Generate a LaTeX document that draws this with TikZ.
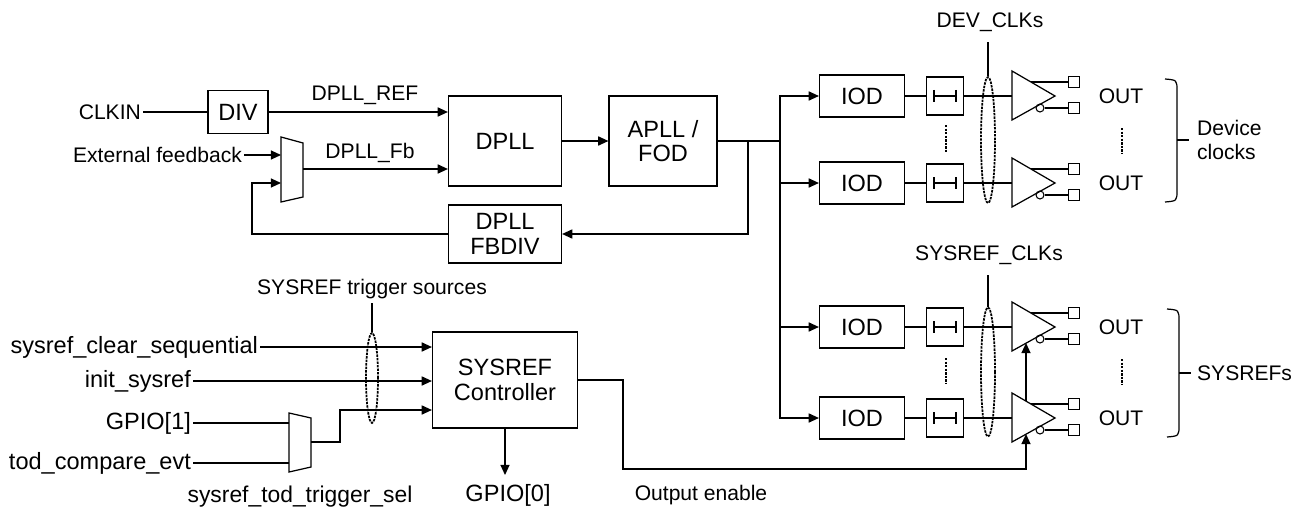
\documentclass[tikz,border=0pt]{standalone}
\usepackage{fontspec}
\setmainfont{Liberation Sans}
\usetikzlibrary{shapes.geometric, arrows.meta, positioning, calc}
\tikzset{
    % Text sizes
    bigtext/.style={font=\fontsize{13.4}{14}\selectfont},
    smalltext/.style={font=\fontsize{12}{13.5}\selectfont},
    % Node styles
    blockbox/.style={
        rectangle,
        draw,
        line width=0.7pt,
        align=center,
        inner sep=1pt,
        bigtext
    },
    iodbox/.style={
        blockbox,
        minimum width=1.7cm,
        minimum height=0.84cm
    },
    delaybox/.style={
        rectangle,
        draw,
        line width=0.7pt,
        minimum width=0.74cm,
        minimum height=0.76cm,
        inner sep=0pt
    },
    padbox/.style={
        rectangle,
        draw,
        line width=0.6pt,
        minimum size=0.22cm,
        inner sep=0pt
    },
    bubble/.style={
        circle,
        draw,
        line width=0.6pt,
        minimum size=0.16cm,
        inner sep=0pt
    },
    bundle/.style={
        ellipse,
        draw,
        line width=1pt,
        dash pattern=on 1.4pt off 0.6pt,
        minimum width=0.28cm,
        inner sep=0pt
    },
    sigtext/.style={
        inner sep=1pt,
        smalltext
    },
    % Line styles
    wire/.style={
        line width=0.7pt
    },
    myarrow/.style={
        wire,
        -{Triangle[length=5.8pt, width=5.2pt]}
    },
    dotline/.style={
        line width=1.1pt,
        dash pattern=on 1.4pt off 0.6pt
    }
}

\begin{document}
\begin{tikzpicture}[x=0.02cm, y=-0.02cm]
    \useasboundingbox (0,0) rectangle (1304,510);

    % DPLL loop
    \node[sigtext, anchor=east] (clkin) at (143,112) {CLKIN};
    \node[blockbox, minimum width=1.2cm, minimum height=0.86cm] (div) at (238,112) {DIV};
    \node[sigtext, anchor=east] (extfb) at (244,155) {External feedback};
    \node[blockbox, minimum width=2.26cm, minimum height=1.8cm] (dpll) at (505,141) {DPLL};
    \node[blockbox, minimum width=2.26cm, minimum height=1.16cm] (fbdiv) at (505,234) {DPLL\\FBDIV};
    \node[blockbox, minimum width=2.16cm, minimum height=1.8cm] (apll) at (663,141) {APLL /\\FOD};

    % Feedback mux
    \draw[wire] (281,137) -- (303,143) -- (303,197) -- (281,202) -- cycle;
    \coordinate (m1a) at (281,155);
    \coordinate (m1b) at (281,183);
    \coordinate (m1o) at (303,169);

    \draw[wire] (clkin.east) -- (div.west);
    \draw[myarrow] (div.east) -- (div.east -| dpll.west);
    \node[sigtext] (reflbl) at (365,95) {DPLL\_REF};
    \draw[myarrow] (extfb.east) -- (m1a);
    \draw[myarrow] (m1o) -- (m1o -| dpll.west);
    \node[sigtext] (fblbl) at (370,153) {DPLL\_Fb};
    \coordinate (fbturn) at (252,183);
    \draw[myarrow] (fbdiv.west) -| (fbturn) -- (m1b);
    \draw[myarrow] (dpll.east) -- (apll.west);

    % Output paths
    \foreach \i/\y in {1/96, 2/183, 3/327, 4/418} {
        \node[iodbox] (iod\i) at (862,\y) {IOD};
        \node[delaybox] (dly\i) at (945,\y) {};
        \draw[wire] ($(dly\i)+(-11,-6)$) -- ++(0,12) ++(0,-6) -- ++(22,0) ++(0,-6) -- ++(0,12);
        \coordinate (bin\i) at (1012,\y);
        \draw[wire] (bin\i) ++(0,-25) -- ++(43,25) -- ++(-43,24) -- cycle;
        \coordinate (up\i) at ($(bin\i)+(19,-14)$);
        \node[padbox] (pa\i) at ($(bin\i)+(62,-14)$) {};
        \node[bubble] (bb\i) at ($(bin\i)+(28,12)$) {};
        \node[padbox] (pb\i) at ($(bin\i)+(62,12)$) {};
        \draw[wire] (up\i) -- (pa\i.west);
        \draw[wire] (bb\i.east) -- (pb\i.west);
        \draw[wire] (iod\i.east) -- (dly\i.west);
        \draw[wire] (dly\i.east) -- (bin\i);
        \node[sigtext] (out\i) at (1121,\y) {OUT};
    }

    % Clock distribution
    \coordinate (fbtap) at (748,141);
    \coordinate (bus) at (780,141);
    \draw[wire] (apll.east) -- (bus);
    \draw[myarrow] (fbtap) |- (fbdiv.east);
    \draw[myarrow] (bus) |- (iod1.west);
    \draw[myarrow] (bus) |- (iod4.west);
    \draw[myarrow] (bus |- iod2.west) -- (iod2.west);
    \draw[myarrow] (bus |- iod3.west) -- (iod3.west);

    % Repeat marks
    \draw[dotline] (946,125) -- (946,152);
    \draw[dotline] (1122,128) -- (1122,153);
    \draw[dotline] (946,358) -- (946,384);
    \draw[dotline] (1122,359) -- (1122,385);

    % Bundles
    \node[bundle, minimum height=2.52cm] (devbundle) at (988,140) {};
    \node[sigtext] (devlbl) at (990,22) {DEV\_CLKs};
    \coordinate (devtap) at (988,42);
    \draw[wire] (devbundle.north) -- (devtap);
    \node[bundle, minimum height=2.58cm] (srbundle) at (988,372) {};
    \node[sigtext] (srlbl) at (989,255) {SYSREF\_CLKs};
    \coordinate (srtap) at (988,275);
    \draw[wire] (srbundle.north) -- (srtap);

    % Braces
    \draw[wire] (1165,79) .. controls (1177,80) .. (1177,91) -- (1177,190) .. controls (1177,201) .. (1165,202);
    \draw[wire] (1177,140) -- (1189,140);
    \node[sigtext, anchor=west, align=left] (devclk) at (1195,140) {Device\\clocks};
    \draw[wire] (1167,309) .. controls (1179,310) .. (1179,321) -- (1179,425) .. controls (1179,436) .. (1167,437);
    \draw[wire] (1179,373) -- (1191,373);
    \node[sigtext, anchor=west] (srefs) at (1195,373) {SYSREFs};

    % SYSREF controller
    \node[blockbox, minimum width=2.9cm, minimum height=1.92cm] (ctrl) at (505,380) {SYSREF\\Controller};
    \node[bigtext, inner sep=1pt, anchor=east] (scs) at (260,347) {sysref\_clear\_sequential};
    \node[bigtext, inner sep=1pt, anchor=east] (isr) at (193,381) {init\_sysref};
    \node[bigtext, inner sep=1pt, anchor=east] (gp1) at (193,423) {GPIO[1]};
    \node[bigtext, inner sep=1pt, anchor=east] (tce) at (193,463) {tod\_compare\_evt};

    \draw[wire] (289,413) -- (311,418) -- (311,467) -- (289,472) -- cycle;
    \coordinate (m2a) at (289,423);
    \coordinate (m2b) at (289,463);
    \coordinate (m2o) at (311,442);
    \node[sigtext, font=\fontsize{13}{14}\selectfont] (sellbl) at (300,497) {sysref\_tod\_trigger\_sel};

    \draw[myarrow] (scs.east) -- (scs.east -| ctrl.west);
    \draw[myarrow] (isr.east) -- (isr.east -| ctrl.west);
    \draw[wire] (gp1.east) -- (m2a);
    \draw[wire] (tce.east) -- (m2b);
    \coordinate (m2turn) at (340,410);
    \draw[myarrow] (m2o) -| (m2turn) -- (m2turn -| ctrl.west);

    \node[bundle, minimum width=0.24cm, minimum height=1.8cm] (trigbundle) at (372,378) {};
    \node[sigtext] (triglbl) at (372,289) {SYSREF trigger sources};
    \coordinate (trigtap) at (372,303);
    \draw[wire] (trigbundle.north) -- (trigtap);

    \node[bigtext, inner sep=1pt] (gp0) at (508,495) {GPIO[0]};
    \coordinate (gpiotip) at (505,475);
    \draw[myarrow] (ctrl.south) -- (gpiotip);

    % Output enable
    \coordinate (oeturn) at (623,469);
    \coordinate (en4bot) at ($(bin4)+(14,16)$);
    \coordinate (en4top) at ($(bin4)+(14,-17)$);
    \coordinate (en3bot) at ($(bin3)+(14,16)$);
    \draw[myarrow] (ctrl.east) -| (oeturn) -| (en4bot);
    \draw[myarrow] (en4top) -- (en3bot);
    \node[sigtext] (oelbl) at (701,495) {Output enable};
\end{tikzpicture}
\end{document}
